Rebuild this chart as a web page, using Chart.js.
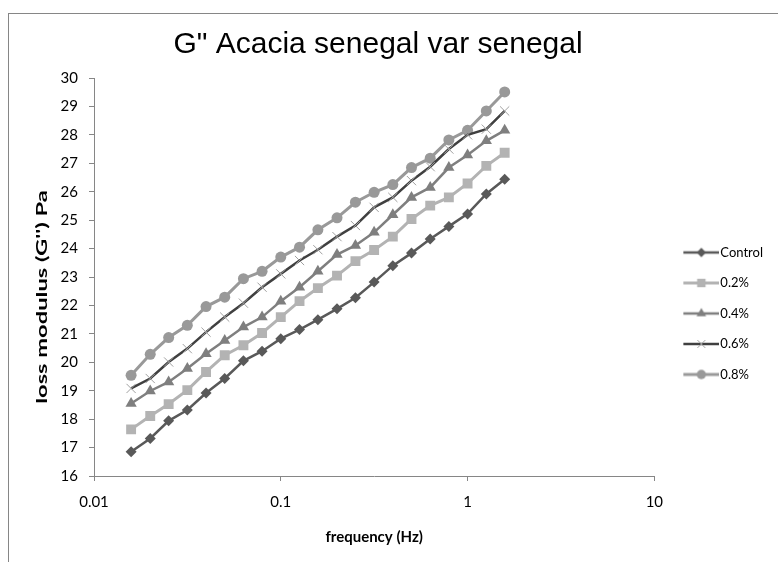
<!DOCTYPE html>
<html>
<head>
<meta charset="utf-8">
<script src="https://cdn.jsdelivr.net/npm/chart.js@4/dist/chart.umd.min.js"></script>
<style>
    body { margin: 0; background: #ffffff; }
    #wrap { width: 778px; height: 562px; }
</style>
</head>
<body>
<div id="wrap"><canvas id="chartLossModulus" width="778" height="562"></canvas></div>
<script>
// Frequency sweep (Hz)
const frequencies = [0.0158, 0.02, 0.0251, 0.0316, 0.0398, 0.0501, 0.0631, 0.0794, 0.1, 0.126, 0.158,
    0.2, 0.251, 0.316, 0.398, 0.501, 0.631, 0.794, 1, 1.26, 1.58];

// G'' (Pa) per concentration
const control = [16.85, 17.32, 17.94, 18.32, 18.92, 19.43, 20.05, 20.39, 20.83, 21.15, 21.50,
    21.88, 22.27, 22.82, 23.40, 23.84, 24.34, 24.78, 25.22, 25.92, 26.44];
const conc02 = [17.64, 18.11, 18.53, 19.02, 19.66, 20.25, 20.60, 21.03, 21.59, 22.15, 22.61,
    23.05, 23.56, 23.95, 24.42, 25.04, 25.51, 25.80, 26.29, 26.91, 27.37];
const conc04 = [18.55, 18.99, 19.31, 19.78, 20.30, 20.77, 21.24, 21.59, 22.15, 22.64, 23.20,
    23.79, 24.11, 24.57, 25.19, 25.80, 26.15, 26.85, 27.29, 27.79, 28.16];
const conc06 = [19.08, 19.43, 20.01, 20.48, 21.06, 21.59, 22.08, 22.64, 23.11, 23.58, 23.96,
    24.42, 24.81, 25.45, 25.80, 26.39, 26.88, 27.50, 28.00, 28.20, 28.84];
const conc08 = [19.54, 20.28, 20.87, 21.30, 21.96, 22.29, 22.94, 23.20, 23.70, 24.05, 24.66,
    25.08, 25.63, 25.98, 26.25, 26.85, 27.18, 27.82, 28.16, 28.84, 29.51];

const seriesLabels = ['Control', '0.2%', '0.4%', '0.6%', '0.8%'];
const xTickValues = [0.01, 0.1, 1, 10];

const AXIS_COLOR = '#868686';
const FONT = 'Lato, "Open Sans", sans-serif';
// the y title in the original is drawn wide and sits a bit below the axis centre
const Y_TITLE_STRETCH = 1.58;
const Y_TITLE_SHIFT = 20;

const styles = [
    { line: '#595959', marker: '#595959', point: 'rectRot', radius: 5.5, width: 2.5 },
    { line: '#b3b3b3', marker: '#b3b3b3', point: 'rect', radius: 7, width: 3 },
    { line: '#7f7f7f', marker: '#7f7f7f', point: 'triangle', radius: 6.5, width: 2.5 },
    { line: '#404040', marker: '#a0a0a0', point: 'crossRot', radius: 6.5, width: 2.5 },
    { line: '#999999', marker: '#999999', point: 'circle', radius: 5.5, width: 3 }
];

function toPoints(values) {
    return values.map((v, i) => ({ x: frequencies[i], y: v }));
}

// small line + marker icon for the legend
function legendIcon(st) {
    const c = document.createElement('canvas');
    c.width = 53;
    c.height = 16;
    const g = c.getContext('2d');
    g.strokeStyle = st.line;
    g.lineWidth = st.width;
    g.beginPath();
    g.moveTo(17, 8);
    g.lineTo(53, 8);
    g.stroke();
    const cx = 35, cy = 8, r = st.radius * 0.85;
    g.fillStyle = st.marker;
    g.strokeStyle = st.marker;
    g.beginPath();
    if (st.point === 'rectRot') {
        g.moveTo(cx, cy - r); g.lineTo(cx + r, cy); g.lineTo(cx, cy + r); g.lineTo(cx - r, cy); g.closePath(); g.fill();
    } else if (st.point === 'rect') {
        const s = r * Math.SQRT1_2;
        g.fillRect(cx - s, cy - s, 2 * s, 2 * s);
    } else if (st.point === 'triangle') {
        g.moveTo(cx, cy - r); g.lineTo(cx + r * 0.87, cy + r * 0.5); g.lineTo(cx - r * 0.87, cy + r * 0.5); g.closePath(); g.fill();
    } else if (st.point === 'crossRot') {
        const s = r * Math.SQRT1_2;
        g.lineWidth = 1;
        g.moveTo(cx - s, cy - s); g.lineTo(cx + s, cy + s);
        g.moveTo(cx + s, cy - s); g.lineTo(cx - s, cy + s);
        g.stroke();
    } else {
        g.arc(cx, cy, r, 0, Math.PI * 2); g.fill();
    }
    return c;
}

const seriesValues = [control, conc02, conc04, conc06, conc08];
const icons = styles.map(legendIcon);

const datasets = seriesValues.map((vals, i) => ({
    label: seriesLabels[i],
    data: toPoints(vals),
    borderColor: styles[i].line,
    backgroundColor: styles[i].marker,
    borderWidth: styles[i].width,
    pointStyle: styles[i].point,
    pointRadius: styles[i].radius,
    pointBackgroundColor: styles[i].marker,
    pointBorderColor: styles[i].marker,
    pointBorderWidth: styles[i].point === 'crossRot' ? 1 : 0,
    tension: 0
}));

// frame + white background
const framePlugin = {
    id: 'frame',
    beforeDraw(chart) {
        const ctx = chart.ctx;
        ctx.save();
        ctx.fillStyle = '#ffffff';
        ctx.fillRect(0, 0, chart.width, chart.height);
        ctx.strokeStyle = AXIS_COLOR;
        ctx.lineWidth = 1;
        ctx.strokeRect(8.5, 13.5, chart.width + 20, chart.height + 20);
        ctx.restore();
    }
};

// stretch the y axis title along its length and move it down
const yTitlePlugin = {
    id: 'yTitle',
    afterLayout(chart) {
        const s = chart.scales.y;
        if (!s || s._stretched) return;
        s._stretched = true;
        const orig = s.drawTitle.bind(s);
        s.drawTitle = function() {
            const ctx = this.ctx;
            const cy = (this.top + this.bottom) / 2;
            ctx.save();
            ctx.translate(0, cy + Y_TITLE_SHIFT);
            ctx.scale(1, Y_TITLE_STRETCH);
            ctx.translate(0, -cy);
            orig();
            ctx.restore();
        };
    }
};

new Chart(document.getElementById('chartLossModulus'), {
    type: 'line',
    data: { datasets },
    plugins: [framePlugin, yTitlePlugin],
    options: {
        responsive: false,
        animation: false,
        layout: { padding: { left: 8, top: 13, right: 5, bottom: 0 } },
        plugins: {
            title: {
                display: true,
                text: 'G" Acacia senegal var senegal   ',
                color: '#000000',
                font: { family: '"Liberation Sans", Arial, sans-serif', size: 30, weight: 'normal' },
                padding: { top: 14, bottom: 15 }
            },
            legend: {
                position: 'right',
                title: { display: true, text: '', font: { size: 10 }, padding: { top: 40, bottom: 0 } },
                labels: {
                    usePointStyle: true,
                    pointStyleWidth: 42,
                    padding: 17.5,
                    color: '#000000',
                    font: { family: FONT, size: 13 },
                    generateLabels: chart => chart.data.datasets.map((ds, i) => ({
                        text: ds.label,
                        pointStyle: icons[i],
                        datasetIndex: i,
                        hidden: false,
                        lineWidth: 0,
                        fontColor: '#000000'
                    }))
                }
            },
            tooltip: { enabled: false }
        },
        scales: {
            x: {
                type: 'logarithmic',
                min: 0.01,
                max: 10,
                afterBuildTicks: axis => { axis.ticks = xTickValues.map(v => ({ value: v })); },
                afterFit: scale => { scale.height = 86; },
                ticks: {
                    color: '#000000',
                    padding: 12,
                    font: { family: FONT, size: 15 },
                    callback: value => String(value)
                },
                grid: { drawOnChartArea: false, tickLength: 5, color: AXIS_COLOR },
                border: { color: AXIS_COLOR },
                title: {
                    display: true,
                    text: 'frequency (Hz)',
                    color: '#000000',
                    font: { family: FONT, size: 15, weight: 'bold' },
                    padding: { top: 0, bottom: 16 }
                }
            },
            y: {
                min: 16,
                max: 30,
                afterFit: scale => { scale.width = 86; },
                ticks: {
                    stepSize: 1,
                    color: '#000000',
                    padding: 11,
                    font: { family: FONT, size: 15 }
                },
                grid: { drawOnChartArea: false, tickLength: 5, color: AXIS_COLOR },
                border: { color: AXIS_COLOR },
                title: {
                    display: true,
                    text: "loss modulus (G'') Pa",
                    color: '#000000',
                    font: { family: FONT, size: 15, weight: 'bold' },
                    padding: { top: 25, bottom: 0 }
                }
            }
        }
    }
});
</script>
</body>
</html>
